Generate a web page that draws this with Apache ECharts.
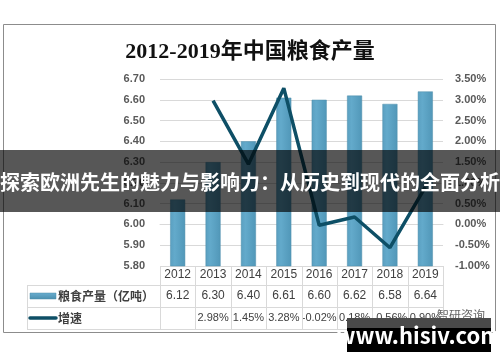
<!DOCTYPE html>
<html><head><meta charset="utf-8">
<script src="https://cdn.jsdelivr.net/npm/echarts@6/dist/echarts.min.js"></script>
<style>html,body{margin:0;padding:0;background:#fff}#c{width:500px;height:362px}</style>
</head><body><div id="c"></div>
<script>
const years = ['2012','2013','2014','2015','2016','2017','2018','2019'];
const production = [6.12, 6.30, 6.40, 6.61, 6.60, 6.62, 6.58, 6.64];
const growth = [null, 2.98, 1.45, 3.28, -0.02, 0.18, -0.56, 0.90];
const growthLabels = ['', '2.98%', '1.45%', '3.28%', '-0.02%', '0.18%', '-0.56%', '0.90%'];
const productionName = '粮食产量（亿吨）';
const growthName = '增速';
const titleText = '2012-2019年中国粮食产量';
const bannerText = '探索欧洲先生的魅力与影响力：从历史到现代的全面分析';
const watermarkText = 'www.hisiv.com';
const sourceText = '智研咨询';

const chart = echarts.init(document.getElementById('c'), null, {renderer: 'canvas'});
const gl = '#d9d9d9';
const tableLeft = 27, plotLeft = 160, plotRight = 443;
const colW = (plotRight - plotLeft) / years.length;
const lines = [];
function hl(y, x1, x2){ lines.push({type:'line', shape:{x1:x1, y1:y, x2:x2, y2:y}, style:{stroke:gl, lineWidth:1}, z:5}); }
function vl(x, y1, y2){ lines.push({type:'line', shape:{x1:x, y1:y1, x2:x, y2:y2}, style:{stroke:gl, lineWidth:1}, z:5}); }
hl(285.5, tableLeft, plotRight);
hl(307.5, tableLeft, plotRight);
hl(329.5, tableLeft, plotRight);
vl(tableLeft + 0.5, 285.5, 329.5);
for (let i = 0; i <= years.length; i++) vl(Math.round(plotLeft + i * colW) + 0.5, 266, 329.5);

const labelStyle = {fontSize: 12, color: '#404040', margin: 3, interval: 0, fontFamily: 'Liberation Sans, Noto Sans CJK SC'};
const labelStyleSmall = Object.assign({}, labelStyle, {fontSize: 11, margin: 4});

chart.setOption({
  animation: false,
  backgroundColor: '#fff',
  title: {
    text: titleText, left: 'center', top: 36,
    textStyle: {fontSize: 22, fontWeight: 'bold', color: '#111', fontFamily: 'Liberation Serif, Noto Sans CJK SC'}
  },
  grid: {left: plotLeft, right: 500 - plotRight, top: 79, bottom: 96, containLabel: false},
  xAxis: [
    {type: 'category', data: years, position: 'bottom',
     axisLine: {show: true, lineStyle: {color: gl}}, axisTick: {show: false},
     axisLabel: labelStyle},
    {type: 'category', data: production.map(v => v.toFixed(2)), position: 'bottom', offset: 21,
     axisLine: {show: false}, axisTick: {show: false}, axisLabel: labelStyle},
    {type: 'category', data: growthLabels, position: 'bottom', offset: 42,
     axisLine: {show: false}, axisTick: {show: false}, axisLabel: labelStyleSmall}
  ],
  yAxis: [
    {type: 'value', min: 5.8, max: 6.7, interval: 0.1, position: 'left',
     axisLine: {show: false}, axisTick: {show: false},
     splitLine: {lineStyle: {color: gl, width: 1}},
     axisLabel: {formatter: v => v.toFixed(2), fontSize: 11, fontWeight: 'bold', color: '#595959', margin: 15, fontFamily: 'Liberation Sans, Noto Sans CJK SC'}},
    {type: 'value', min: -1, max: 3.5, interval: 0.5, position: 'right',
     axisLine: {show: false}, axisTick: {show: false}, splitLine: {show: false},
     axisLabel: {formatter: v => v.toFixed(2) + '%', fontSize: 11, fontWeight: 'bold', color: '#595959', margin: 12, fontFamily: 'Liberation Sans, Noto Sans CJK SC'}}
  ],
  series: [
    {name: productionName, type: 'bar', data: production, xAxisIndex: 0, yAxisIndex: 0, barWidth: 15,
     itemStyle: {color: new echarts.graphic.LinearGradient(0, 0, 1, 0, [
       {offset: 0, color: '#5a9fc0'}, {offset: 0.3, color: '#63aacb'}, {offset: 1, color: '#5197b8'}]),
       borderColor: '#4f8eab', borderWidth: 0.5}},
    {name: growthName, type: 'line', data: growth, xAxisIndex: 0, yAxisIndex: 1,
     symbol: 'none', lineStyle: {color: '#0e4f66', width: 3.5}, itemStyle: {color: '#0e4f66'}, z: 3}
  ],
  graphic: lines.concat([
    {type: 'rect', shape: {x: 3.5, y: 24.5, width: 492, height: 308}, style: {fill: 'none', stroke: '#8c8c8c', lineWidth: 1}, z: 1},
    {type: 'rect', shape: {x: 30, y: 293, width: 26, height: 6}, style: {fill: new echarts.graphic.LinearGradient(0, 0, 0, 1, [{offset: 0, color: '#6aaed0'}, {offset: 1, color: '#4b8fae'}]), stroke: '#4f8eab', lineWidth: 0.5}, z: 6},
    {type: 'text', x: 58, y: 296, style: {text: productionName, fontSize: 12, fontWeight: 'bold', fill: '#404040', verticalAlign: 'middle', fontFamily: 'Noto Sans CJK SC'}, z: 6},
    {type: 'line', shape: {x1: 30, y1: 318, x2: 56, y2: 318}, style: {stroke: '#0e4f66', lineWidth: 3.5, lineCap: 'round'}, z: 6},
    {type: 'text', x: 58, y: 318, style: {text: growthName, fontSize: 12, fontWeight: 'bold', fill: '#404040', verticalAlign: 'middle', fontFamily: 'Noto Sans CJK SC'}, z: 6},
    {type: 'text', x: 461, y: 315, style: {text: sourceText, fontSize: 12, fill: '#666', align: 'center', verticalAlign: 'middle', fontFamily: 'Noto Sans CJK SC'}, z: 7},
    {type: 'rect', shape: {x: 0, y: 150, width: 500, height: 62}, style: {fill: 'rgba(0,0,0,0.66)'}, z: 100},
    {type: 'text', x: 250, y: 182, style: {text: bannerText, fontSize: 20, fontWeight: 'bold', fill: '#fff', align: 'center', verticalAlign: 'middle', fontFamily: 'Noto Sans CJK SC'}, z: 101},
    {type: 'rect', shape: {x: 347, y: 318, width: 144, height: 34}, style: {fill: '#000'}, z: 100},
    {type: 'rect', shape: {x: 347, y: 318, width: 144, height: 10}, style: {fill: '#4a4a4a'}, z: 100},
    {type: 'text', x: 419, y: 336, style: {text: watermarkText, fontSize: 22, fontWeight: 'bold', fill: '#fff', align: 'center', verticalAlign: 'middle', fontFamily: 'Noto Sans CJK SC'}, z: 101}
  ])
});
</script></body></html>
